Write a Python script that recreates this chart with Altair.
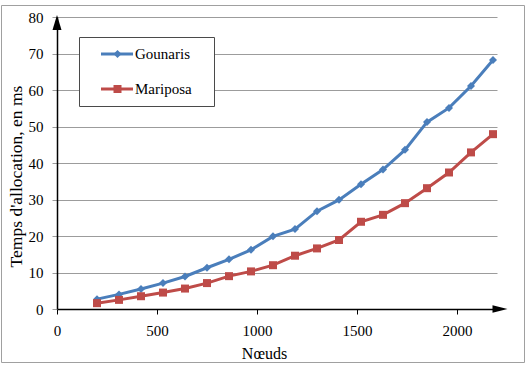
import altair as alt
import pandas as pd

# Number of nodes in the tested graphs
nodes = [200, 310, 420, 530, 640, 750, 860, 970, 1080, 1190,
         1300, 1410, 1520, 1630, 1740, 1850, 1960, 2070, 2180]
# Allocation time (ms) for each algorithm
gounaris = [2.7, 4.0, 5.5, 7.1, 8.9, 11.3, 13.6, 16.2, 19.9, 21.9,
            26.8, 29.9, 34.2, 38.2, 43.6, 51.2, 55.1, 61.1, 68.2]
mariposa = [1.6, 2.5, 3.5, 4.5, 5.6, 7.1, 9.0, 10.3, 12.0, 14.6,
            16.6, 18.9, 23.9, 25.8, 29.0, 33.1, 37.4, 42.9, 47.9]

series = ["Gounaris", "Mariposa"]
colors = ["#4A7EBB", "#BE4B48"]
shapes = ["diamond", "square"]
x_ticks = [0, 500, 1000, 1500, 2000]
y_ticks = [0, 10, 20, 30, 40, 50, 60, 70, 80]

FONT = "Liberation Serif, Times New Roman, serif"

df = pd.concat([
    pd.DataFrame({"Nœuds": nodes, "temps": gounaris, "serie": series[0]}),
    pd.DataFrame({"Nœuds": nodes, "temps": mariposa, "serie": series[1]}),
])

color = alt.Color("serie:N", scale=alt.Scale(domain=series, range=colors), legend=None)
shape = alt.Shape("serie:N", scale=alt.Scale(domain=series, range=shapes), legend=None)

x_enc = alt.X(
    "Nœuds:Q", scale=alt.Scale(domain=[0, 2200], nice=False),
    axis=alt.Axis(values=x_ticks, format="d", title="Nœuds",
                  labelFont=FONT, titleFont=FONT),
)
y_enc = alt.Y(
    "temps:Q", scale=alt.Scale(domain=[0, 80], nice=False),
    axis=alt.Axis(values=y_ticks, format="d", title="Temps d'allocation, en ms",
                  labelFont=FONT, titleFont=FONT),
)

base = alt.Chart(df)
lines = base.mark_line(strokeWidth=3).encode(x=x_enc, y=y_enc, color=color)
points = base.mark_point(filled=True, opacity=1, size=64).encode(
    x=x_enc, y=y_enc, color=color, shape=shape
)

# Outer frame around the whole figure
frame = alt.Chart(pd.DataFrame({"k": [0]})).mark_rect(
    fill="white", fillOpacity=0, stroke="#a0a0a0", strokeWidth=1
).encode(x=alt.value(-55.5), x2=alt.value(467.5), y=alt.value(-11.5), y2=alt.value(345.5))

# Arrow heads at the ends of both axes
arrow_up = alt.Chart(pd.DataFrame({"Nœuds": [0], "temps": [80]})).mark_point(
    shape="M0,-1L0.6,1L-0.6,1Z", size=225, filled=True, color="black", opacity=1,
    yOffset=5.5,
).encode(x=x_enc, y=y_enc)
arrow_right = alt.Chart(pd.DataFrame({"Nœuds": [2200], "temps": [0]})).mark_point(
    shape="M1,0L-1,-0.5L-1,0.5Z", size=225, filled=True, color="black", opacity=1,
    xOffset=3,
).encode(x=x_enc, y=y_enc)

# Legend drawn as its own layer
legend_df = pd.DataFrame({"serie": series, "ly": [37, 72]})
legend_box = alt.Chart(pd.DataFrame({"k": [0]})).mark_rect(
    fill="white", stroke="#4a4a4a", strokeWidth=1
).encode(x=alt.value(22.5), x2=alt.value(157.5), y=alt.value(20.5), y2=alt.value(89.5))
legend_lines = alt.Chart(legend_df).mark_rule(strokeWidth=3).encode(
    x=alt.value(44), x2=alt.value(76), y=alt.Y("ly:Q", scale=None), color=color
)
legend_marks = alt.Chart(legend_df).mark_point(filled=True, opacity=1, size=64).encode(
    x=alt.value(60.5), y=alt.Y("ly:Q", scale=None), color=color, shape=shape
)
legend_text = alt.Chart(legend_df).mark_text(
    font=FONT, fontSize=15, align="left", baseline="middle", color="black"
).encode(x=alt.value(78), y=alt.Y("ly:Q", scale=None), text="serie:N")

chart = alt.layer(
    frame, lines, points, legend_box, legend_lines, legend_marks, legend_text,
    arrow_up, arrow_right,
).properties(
    width=440, height=292,
    autosize=alt.AutoSizeParams(type="none"),
    padding={"left": 57, "top": 17, "right": 29, "bottom": 56},
    background="white",
).configure(
    font=FONT,
).configure_view(
    stroke=None,
).configure_axis(
    labelFont=FONT, labelFontSize=15, labelColor="black", labelFlush=False,
    labelOverlap=False,
    titleFont=FONT, titleFontSize=16, titleFontWeight="normal", titleColor="black",
    domainColor="black", domainWidth=1.5, tickSize=5, tickWidth=1,
).configure_axisX(
    grid=False, tickColor="black", labelPadding=9,
    titleX=207, titleY=49, titleBaseline="alphabetic", titleAnchor="middle",
).configure_axisY(
    grid=True, gridColor="#9c9c9c", gridWidth=1, tickColor="#9c9c9c", labelPadding=9,
    titleFontSize=17.5,
    titleX=-41, titleY=159, titleAngle=-90, titleBaseline="middle", titleAnchor="middle",
)

chart.save("out.html", embed_options={"renderer": "svg", "actions": False})
